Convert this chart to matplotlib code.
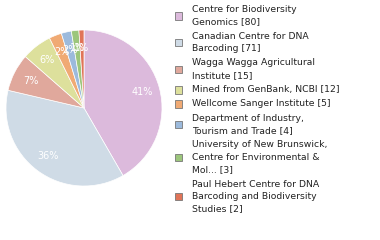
import matplotlib
matplotlib.use("Agg")
from matplotlib import pyplot as plt
from matplotlib.patches import Rectangle

labels = ['Centre for Biodiversity\nGenomics [80]',
          'Canadian Centre for DNA\nBarcoding [71]',
          'Wagga Wagga Agricultural\nInstitute [15]',
          'Mined from GenBank, NCBI [12]',
          'Wellcome Sanger Institute [5]',
          'Department of Industry,\nTourism and Trade [4]',
          'University of New Brunswick,\nCentre for Environmental &\nMol... [3]',
          'Paul Hebert Centre for DNA\nBarcoding and Biodiversity\nStudies [2]']
values = [80, 71, 15, 12, 5, 4, 3, 2]
colors = ['#dcbadc', '#cfdbe6', '#e0a89c', '#dde09c', '#f0aa74', '#9cbadc', '#9cc67c', '#e07458']

plt.rcParams['font.family'] = ['DejaVu Sans']
W, H = 380, 240
fig = plt.figure(figsize=(3.8, 2.4), dpi=100)
ax = fig.add_axes([6/W, 54/H, 156/W, 156/H])

wedges, texts, autotexts = ax.pie(values, colors=colors, startangle=90, counterclock=False,
                                  autopct=lambda p: '%d%%' % int(p), pctdistance=0.77,
                                  wedgeprops={'linewidth': 0.5, 'edgecolor': 'white'},
                                  textprops={'color': 'white', 'fontsize': 7})
ax.set_xlim(-1, 1)
ax.set_ylim(-1, 1)
ax.set_aspect('equal')

# legend drawn by hand (wrapped labels, tight line pitch)
y = 9.5
for lab, c in zip(labels, colors):
    lines = lab.split('\n')
    ys = [y + i * 12.4 for i in range(len(lines))]
    for ln, yy in zip(lines, ys):
        fig.text(192/W, 1 - yy/H, ln, fontsize=6.7, va='center', ha='left', color='#222222')
    yc = (ys[0] + ys[-1]) / 2
    fig.patches.append(Rectangle((174.5/W, 1 - (yc + 4)/H), 7.5/W, 7.5/H, transform=fig.transFigure,
                                 facecolor=c, edgecolor='#777777', linewidth=0.6))
    y = ys[-1] + 14.3

fig.savefig('out.png', dpi=100)
